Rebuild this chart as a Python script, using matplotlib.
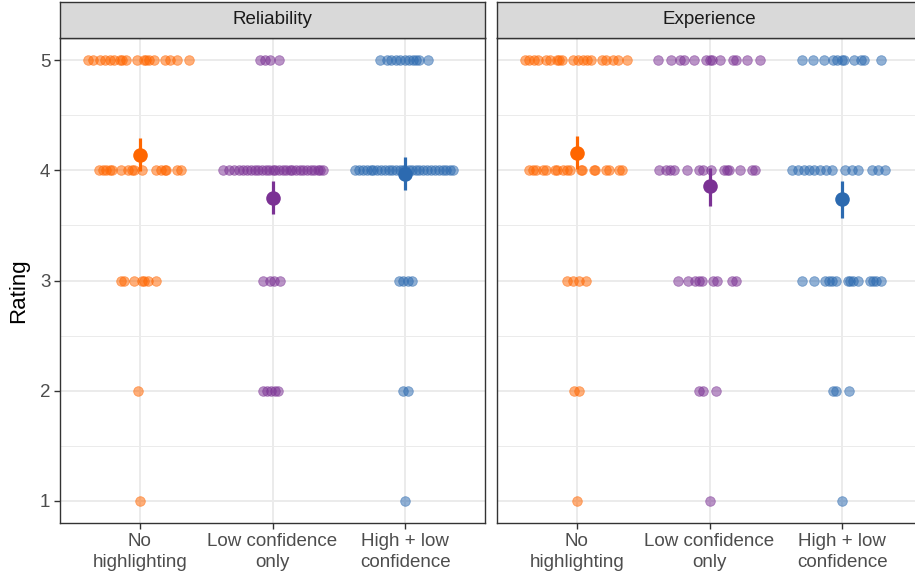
import matplotlib
matplotlib.use("Agg")
import matplotlib.pyplot as plt
from matplotlib.ticker import FixedLocator

plt.rcParams['font.family'] = ['Liberation Sans', 'DejaVu Sans']

panels = ["Reliability", "Experience"]
conditions = ["No\nhighlighting", "Low confidence\nonly", "High + low\nconfidence"]
colors = ["#FF6600", "#7B3294", "#2C6AB0"]
rating_ticks = [1, 2, 3, 4, 5]

# Individual ratings: rating level -> horizontal jitter of each response
rel_none = {
    5: [-0.39, -0.35, -0.30, -0.26, -0.22, -0.19, -0.15, -0.13, -0.10, -0.02,
        0.03, 0.05, 0.07, 0.11, 0.19, 0.23, 0.28, 0.37],
    4: [-0.31, -0.28, -0.25, -0.22, -0.21, -0.14, -0.09, -0.06, -0.04, 0.02,
        0.12, 0.16, 0.19, 0.20, 0.28, 0.31],
    3: [-0.14, -0.12, -0.04, 0.02, 0.03, 0.06, 0.12],
    2: [-0.01],
    1: [0.00],
}
rel_low = {
    5: [-0.095, -0.06, -0.02, 0.05],
    4: [-0.37, -0.33, -0.29, -0.25, -0.22, -0.19, -0.16, -0.13, -0.11, -0.08,
        -0.05, -0.03, 0.00, 0.02, 0.05, 0.08, 0.10, 0.13, 0.15, 0.18,
        0.21, 0.23, 0.26, 0.29, 0.31, 0.34, 0.36, 0.38],
    3: [-0.07, -0.02, 0.01, 0.055],
    2: [-0.07, -0.04, -0.01, 0.02, 0.04],
    1: [],
}
rel_both = {
    5: [-0.19, -0.14, -0.11, -0.07, -0.04, 0.00, 0.03, 0.06, 0.08, 0.10, 0.17],
    4: [-0.38, -0.35, -0.32, -0.29, -0.26, -0.24, -0.21, -0.18, -0.15, -0.12,
        -0.10, -0.07, -0.04, -0.02, 0.00, 0.03, 0.05, 0.08, 0.10, 0.13,
        0.16, 0.19, 0.22, 0.25, 0.28, 0.31, 0.34, 0.36],
    3: [-0.05, -0.02, 0.02, 0.05],
    2: [-0.02, 0.02],
    1: [0.00],
}
exp_none = {
    5: [-0.39, -0.36, -0.32, -0.29, -0.23, -0.20, -0.15, -0.13, -0.11, -0.03,
        0.01, 0.05, 0.08, 0.11, 0.19, 0.22, 0.27, 0.31, 0.38],
    4: [-0.36, -0.33, -0.31, -0.25, -0.23, -0.16, -0.15, -0.10, -0.07, -0.05,
        0.03, 0.04, 0.13, 0.14, 0.22, 0.24, 0.32, 0.34],
    3: [-0.07, -0.03, 0.02, 0.07],
    2: [-0.02, 0.02],
    1: [0.00],
}
exp_low = {
    5: [-0.39, -0.29, -0.22, -0.19, -0.12, -0.03, 0.00, 0.02, 0.08, 0.18,
        0.20, 0.28, 0.38],
    4: [-0.38, -0.33, -0.30, -0.27, -0.17, -0.08, -0.05, 0.01, 0.11, 0.13,
        0.15, 0.23, 0.32, 0.34],
    3: [-0.24, -0.16, -0.11, -0.08, -0.06, 0.03, 0.06, 0.17, 0.20],
    2: [-0.08, -0.05, 0.05],
    1: [0.00],
}
exp_both = {
    5: [-0.30, -0.22, -0.14, -0.07, -0.04, 0.00, 0.01, 0.09, 0.14, 0.16, 0.29],
    4: [-0.38, -0.33, -0.29, -0.25, -0.21, -0.17, -0.12, -0.08, 0.02, 0.07,
        0.12, 0.22, 0.27, 0.32],
    3: [-0.30, -0.21, -0.13, -0.10, -0.08, -0.05, 0.04, 0.06, 0.08, 0.12,
        0.21, 0.23, 0.25, 0.29],
    2: [-0.07, -0.05, 0.05],
    1: [0.00],
}

# Mean rating with interval per condition
rel_mean = [4.14, 3.75, 3.97]
rel_lo = [3.99, 3.60, 3.82]
rel_hi = [4.29, 3.90, 4.12]
exp_mean = [4.16, 3.86, 3.74]
exp_lo = [4.01, 3.68, 3.57]
exp_hi = [4.31, 4.02, 3.90]

panel_points = [[rel_none, rel_low, rel_both], [exp_none, exp_low, exp_both]]
panel_means = [(rel_mean, rel_lo, rel_hi), (exp_mean, exp_lo, exp_hi)]

W, H = 915, 577
fig = plt.figure(figsize=(W / 100, H / 100), dpi=100)

panel_left = [60, 497]
panel_w = 425
plot_top, plot_bottom = 38, 523
strip_top = 2

for p, name in enumerate(panels):
    x0 = panel_left[p]
    ax = fig.add_axes([x0 / W, (H - plot_bottom) / H, panel_w / W,
                       (plot_bottom - plot_top) / H])
    ax.set_xlim(0.4, 3.6)
    ax.set_ylim(0.8, 5.2)
    ax.set_facecolor("white")

    # grid
    for y in rating_ticks:
        ax.axhline(y, color="#EBEBEB", lw=1.4, zorder=0)
    for y in [1.5, 2.5, 3.5, 4.5]:
        ax.axhline(y, color="#EBEBEB", lw=0.7, zorder=0)
    for x in [1, 2, 3]:
        ax.axvline(x, color="#EBEBEB", lw=1.4, zorder=0)

    for c, groups in enumerate(panel_points[p]):
        xs, ys = [], []
        for rating, offs in groups.items():
            for o in offs:
                xs.append(c + 1 + o)
                ys.append(rating)
        ax.scatter(xs, ys, s=48, color=colors[c], alpha=0.52,
                   edgecolors=colors[c], linewidths=0.6, zorder=2)

    means, lo, hi = panel_means[p]
    for c in range(3):
        ax.plot([c + 1, c + 1], [lo[c], hi[c]], color=colors[c], lw=2.3,
                solid_capstyle="butt", zorder=3)
        ax.plot([c + 1], [means[c]], "o", color=colors[c], ms=10.5,
                markeredgewidth=0, zorder=4)

    for s in ax.spines.values():
        s.set_color("#333333")
        s.set_linewidth(1.0)

    ax.xaxis.set_major_locator(FixedLocator([1, 2, 3]))
    ax.set_xticklabels(conditions, fontsize=13.5, color="#4D4D4D",
                       linespacing=1.3)
    ax.yaxis.set_major_locator(FixedLocator(rating_ticks))
    ax.tick_params(axis="both", length=4, width=1, color="#333333",
                   pad=3)
    if p == 0:
        ax.set_yticklabels([str(v) for v in rating_ticks], fontsize=13.5,
                           color="#4D4D4D")
    else:
        ax.tick_params(axis="y", left=False, labelleft=False)

    # facet strip
    sax = fig.add_axes([x0 / W, (H - plot_top) / H, panel_w / W,
                        (plot_top - strip_top) / H])
    sax.set_facecolor("#D9D9D9")
    sax.set_xticks([])
    sax.set_yticks([])
    for s in sax.spines.values():
        s.set_color("#333333")
        s.set_linewidth(1.0)
    sax.text(0.5, 0.5, name, ha="center", va="center", fontsize=13.5,
             color="#1A1A1A", transform=sax.transAxes)

fig.text(19 / W, 1 - 291 / H, "Rating", rotation=90, ha="center",
         va="center", fontsize=16, color="black")

fig.savefig("out.png", dpi=100)
